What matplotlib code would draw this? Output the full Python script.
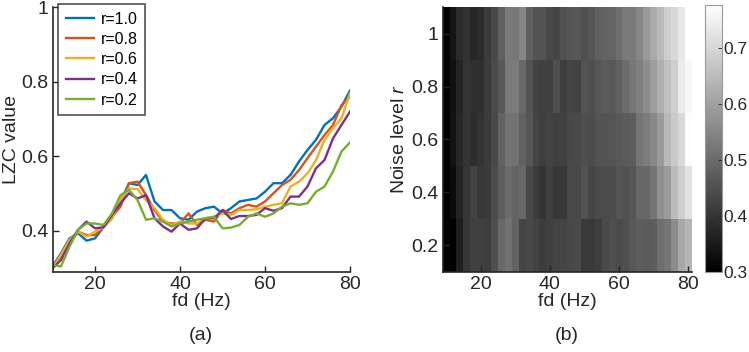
import numpy as np
import matplotlib
matplotlib.use('Agg')
import matplotlib.pyplot as plt

plt.rcParams['font.family'] = ['Liberation Sans', 'DejaVu Sans']
plt.rcParams['mathtext.fontset'] = 'custom'
plt.rcParams['mathtext.it'] = 'Liberation Sans:italic'
plt.rcParams['mathtext.rm'] = 'Liberation Sans'

# --- data ---
fd = np.arange(10, 81, 2)
noise_levels = [0.2, 0.4, 0.6, 0.8, 1.0]

lzc_r10 = [0.305, 0.34, 0.38, 0.394, 0.374, 0.38, 0.41, 0.434, 0.479, 0.528, 0.523, 0.55,
           0.479, 0.456, 0.456, 0.434, 0.43, 0.452, 0.461, 0.465, 0.447, 0.461, 0.479, 0.483,
           0.487, 0.505, 0.528, 0.528, 0.55, 0.586, 0.617, 0.644, 0.684, 0.702, 0.733, 0.776]
lzc_r08 = [0.305, 0.33, 0.367, 0.398, 0.389, 0.389, 0.41, 0.438, 0.465, 0.528, 0.532, 0.496,
           0.456, 0.425, 0.42, 0.42, 0.447, 0.416, 0.43, 0.425, 0.456, 0.447, 0.461, 0.47,
           0.465, 0.479, 0.501, 0.523, 0.537, 0.563, 0.595, 0.626, 0.657, 0.684, 0.737, 0.76]
lzc_r06 = [0.30, 0.336, 0.376, 0.398, 0.385, 0.398, 0.41, 0.434, 0.483, 0.514, 0.512, 0.483,
           0.461, 0.43, 0.416, 0.425, 0.42, 0.42, 0.434, 0.438, 0.447, 0.443, 0.456, 0.456,
           0.458, 0.465, 0.47, 0.474, 0.519, 0.532, 0.554, 0.59, 0.644, 0.675, 0.702, 0.769]
lzc_r04 = [0.30, 0.322, 0.367, 0.403, 0.425, 0.407, 0.41, 0.443, 0.474, 0.501, 0.487, 0.496,
           0.434, 0.412, 0.398, 0.42, 0.403, 0.407, 0.434, 0.434, 0.456, 0.432, 0.44, 0.44,
           0.443, 0.461, 0.454, 0.461, 0.492, 0.492, 0.519, 0.568, 0.59, 0.648, 0.684, 0.72]
lzc_r02 = [0.309, 0.305, 0.358, 0.403, 0.42, 0.42, 0.416, 0.447, 0.496, 0.51, 0.483, 0.43,
           0.434, 0.425, 0.412, 0.42, 0.425, 0.43, 0.434, 0.438, 0.407, 0.409, 0.416, 0.438,
           0.447, 0.438, 0.447, 0.465, 0.474, 0.47, 0.474, 0.505, 0.519, 0.559, 0.613, 0.637]

series = [lzc_r10, lzc_r08, lzc_r06, lzc_r04, lzc_r02]
labels = ['r=1.0', 'r=0.8', 'r=0.6', 'r=0.4', 'r=0.2']
colors = ['#0072BD', '#D95319', '#EDB120', '#7E2F8E', '#77AC30']

axcol = '#262626'
fs = 14

fig = plt.figure(figsize=(7.49, 3.52), dpi=100)

# --- (a) line plot ---
ax1 = fig.add_axes([0.0701, 0.2273, 0.3972, 0.7528])
for vals, lab, c in zip(series, labels, colors):
    ax1.plot(fd, vals, color=c, lw=1.7, label=lab)
ax1.set_xlim(10, 80)
ax1.set_ylim(0.29, 1.0)
ax1.set_xticks([20, 40, 60, 80])
ax1.set_yticks([0.4, 0.6, 0.8, 1.0])
ax1.set_yticklabels(['0.4', '0.6', '0.8', '1'])
ax1.set_xlabel('fd (Hz)', fontsize=fs, color=axcol, labelpad=0)
ax1.set_ylabel('LZC value', fontsize=fs, color=axcol, labelpad=1)
leg = ax1.legend(loc='upper left', fontsize=11.5, frameon=True, fancybox=False,
                 handlelength=1.8, handletextpad=0.4, borderpad=0.45, labelspacing=0.33,
                 borderaxespad=0.0, bbox_to_anchor=(0.02, 1.01), edgecolor=axcol)
leg.get_frame().set_linewidth(1.2)
ax1.text(0.5, -0.238, '(a)', transform=ax1.transAxes, ha='center', va='center',
         fontsize=fs, color=axcol)

# --- (b) heatmap ---
ax2 = fig.add_axes([0.591, 0.2273, 0.3324, 0.7528])
grid = np.array([lzc_r02, lzc_r04, lzc_r06, lzc_r08, lzc_r10])
x_edges = np.append(fd - 1, fd[-1] + 1)
y_edges = np.append(np.array(noise_levels) - 0.1, noise_levels[-1] + 0.1)
mesh = ax2.pcolormesh(x_edges, y_edges, grid, cmap='gray', shading='flat')
ax2.set_xlim(x_edges[0], x_edges[-1])
ax2.set_ylim(y_edges[0], y_edges[-1])
ax2.set_xticks([20, 40, 60, 80])
ax2.set_yticks([0.2, 0.4, 0.6, 0.8, 1.0])
ax2.set_yticklabels(['0.2', '0.4', '0.6', '0.8', '1'])
ax2.set_xlabel('fd (Hz)', fontsize=fs, color=axcol, labelpad=0)
ax2.set_ylabel('Noise level $r$', fontsize=fs, color=axcol, labelpad=2)
ax2.text(0.5, -0.238, '(b)', transform=ax2.transAxes, ha='center', va='center',
         fontsize=fs, color=axcol)

cax = fig.add_axes([0.9413, 0.2273, 0.022, 0.7585])
cb = fig.colorbar(mesh, cax=cax)
cb.set_ticks([0.3, 0.4, 0.5, 0.6, 0.7])
cb.ax.tick_params(labelsize=12.5, colors=axcol, direction='in', length=3, width=0.6, pad=1)
cb.outline.set_edgecolor('#999999')

for ax in (ax1, ax2):
    for s in ('top', 'right'):
        ax.spines[s].set_visible(False)
    for s in ('left', 'bottom'):
        ax.spines[s].set_color(axcol)
        ax.spines[s].set_linewidth(1.2)
    ax.tick_params(direction='in', labelsize=fs, colors=axcol, length=4, width=1, pad=3)

fig.savefig('out.png', dpi=100)
